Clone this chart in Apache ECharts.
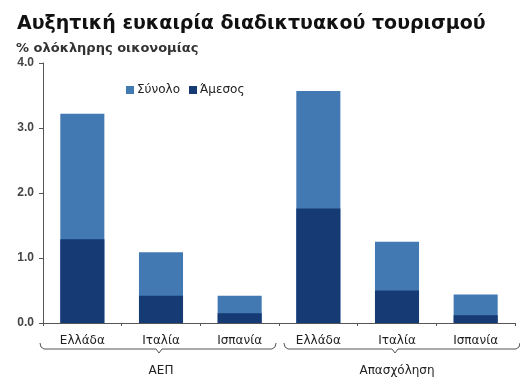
<!DOCTYPE html>
<html>
<head>
<meta charset="utf-8">
<script src="https://cdn.jsdelivr.net/npm/echarts@6/dist/echarts.min.js"></script>
<style>
  html, body { margin: 0; padding: 0; background: #fff; }
  #chart { width: 520px; height: 379px; }
</style>
</head>
<body>
<div id="chart"></div>
<script>
// Countries, repeated for each measure group
const categories = ['Ελλάδα', 'Ιταλία', 'Ισπανία', 'Ελλάδα', 'Ιταλία', 'Ισπανία'];
// Measure groups spanning three countries each
const groups = ['ΑΕΠ', 'Απασχόληση'];
const groupSize = 3;
// Total contribution (% of whole economy)
const totalValues = [3.22, 1.09, 0.42, 3.57, 1.25, 0.44];
// Direct contribution (% of whole economy)
const directValues = [1.29, 0.42, 0.15, 1.76, 0.50, 0.12];
// Value axis ticks
const yTicks = [0, 1, 2, 3, 4];

const FONT = '"DejaVu Sans", "Liberation Sans", sans-serif';
const NARROW = '"Liberation Sans", Arial, sans-serif';
const LIGHT = '#4279B3';
const DARK = '#163A74';

const chart = echarts.init(document.getElementById('chart'));

const option = {
  animation: false,
  backgroundColor: '#ffffff',
  title: [
    {
      text: 'Αυξητική ευκαιρία διαδικτυακού τουρισμού',
      left: 12, top: 10,
      textStyle: { fontFamily: FONT, fontSize: 19, fontWeight: 'bold', color: '#111' }
    },
    {
      text: '% ολόκληρης οικονομίας',
      left: 11, top: 37,
      textStyle: { fontFamily: FONT, fontSize: 13, fontWeight: 'bold', color: '#333' }
    }
  ],
  legend: {
    left: 121, top: 79,
    icon: 'rect', itemWidth: 8, itemHeight: 8, itemGap: 9,
    textStyle: { fontFamily: FONT, fontSize: 12, color: '#222', padding: [0, 0, 0, -2] },
    data: ['Σύνολο', 'Άμεσος']
  },
  grid: { left: 43, right: 5, top: 63, bottom: 56, containLabel: false },
  xAxis: [
    {
      type: 'category',
      data: categories,
      axisLine: { lineStyle: { color: '#555', width: 1 } },
      axisTick: { show: true, interval: 0, length: 3, lineStyle: { color: '#555' } },
      axisLabel: { interval: 0, margin: 12, fontFamily: FONT, fontSize: 12, color: '#222' }
    },
    {
      type: 'category',
      data: groups,
      position: 'bottom',
      offset: 34,
      axisLine: { show: false },
      axisTick: { show: false },
      axisLabel: { interval: 0, margin: 8, fontFamily: FONT, fontSize: 12, color: '#222' }
    }
  ],
  yAxis: {
    type: 'value',
    min: yTicks[0],
    max: yTicks[yTicks.length - 1],
    interval: 1,
    splitLine: { show: false },
    axisLine: { show: true, lineStyle: { color: '#555', width: 1 } },
    axisTick: { show: true, length: 4, lineStyle: { color: '#555' } },
    axisLabel: {
      margin: 9, fontFamily: NARROW, fontSize: 12, fontWeight: 'bold', color: '#444',
      formatter: v => v.toFixed(1)
    }
  },
  series: [
    {
      name: 'Σύνολο',
      type: 'bar',
      data: totalValues,
      barWidth: '56%',
      barGap: '-100%',
      itemStyle: { color: LIGHT }
    },
    {
      name: 'Άμεσος',
      type: 'bar',
      data: directValues,
      barWidth: '56%',
      itemStyle: { color: DARK }
    }
  ]
};

chart.setOption(option);

// Group brackets under the country labels, placed from the category scale
function drawBrackets() {
  const c0 = chart.convertToPixel({ xAxisIndex: 0 }, 0);
  const c1 = chart.convertToPixel({ xAxisIndex: 0 }, 1);
  const band = c1 - c0;
  const y0 = chart.convertToPixel({ yAxisIndex: 0 }, 0);
  const y = y0 + 26;
  const elements = groups.map((g, i) => {
    const first = chart.convertToPixel({ xAxisIndex: 0 }, i * groupSize);
    const last = chart.convertToPixel({ xAxisIndex: 0 }, i * groupSize + groupSize - 1);
    const xa = first - band / 2 - (i === 0 ? 3 : -5);
    const xb = last + band / 2 - (i === 0 ? 3 : -5);
    const xm = (first + last) / 2 - 2;
    return {
      type: 'polyline',
      silent: true,
      shape: {
        points: [
          [xa, y - 6], [xa + 1, y - 2], [xa + 4, y],
          [xm - 3, y], [xm, y + 4], [xm + 3, y],
          [xb - 4, y], [xb - 1, y - 2], [xb, y - 6]
        ]
      },
      style: { stroke: '#555', lineWidth: 1, fill: null }
    };
  });
  chart.setOption({ graphic: elements });
}
drawBrackets();
</script>
</body>
</html>
